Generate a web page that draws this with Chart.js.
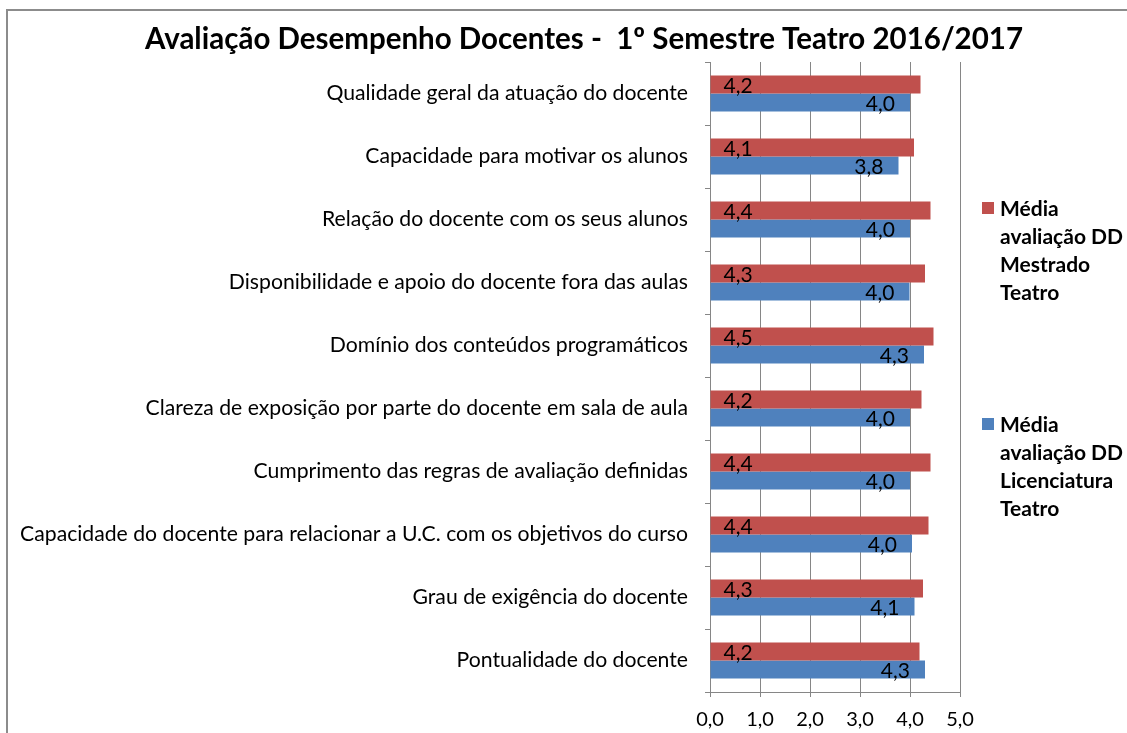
<!DOCTYPE html>
<html>
<head>
<meta charset="utf-8">
<script src="https://cdn.jsdelivr.net/npm/chart.js@4.4.0/dist/chart.umd.min.js"></script>
<style>
  html, body { margin: 0; padding: 0; background: #fff; }
</style>
</head>
<body>
<canvas id="grafico" width="1127" height="733"></canvas>
<script>
var categorias = [
  "Qualidade geral da atuação do docente",
  "Capacidade para motivar os alunos",
  "Relação do docente com os seus alunos",
  "Disponibilidade e apoio do docente fora das aulas",
  "Domínio dos conteúdos programáticos",
  "Clareza de exposição por parte do docente em sala de aula",
  "Cumprimento das regras de avaliação definidas",
  "Capacidade do docente para relacionar a U.C. com os objetivos do curso",
  "Grau de exigência do docente",
  "Pontualidade do docente"
];
var mestrado = [4.21, 4.08, 4.41, 4.30, 4.47, 4.23, 4.41, 4.37, 4.26, 4.19];
var licenciatura = [4.00, 3.77, 4.00, 3.99, 4.28, 4.00, 4.00, 4.04, 4.09, 4.30];
var ticksX = ["0,0", "1,0", "2,0", "3,0", "4,0", "5,0"];
var titulo = "Avaliação Desempenho Docentes -  1º Semestre Teatro 2016/2017";
var legendaMestrado = ["Média", "avaliação DD", "Mestrado", "Teatro"];
var legendaLicenciatura = ["Média", "avaliação DD", "Licenciatura", "Teatro"];

var fonte = "Lato";
var vermelho = "#C0504D";
var azul = "#4F81BD";
var cinza = "#868686";

function fmt(v) {
  return v.toFixed(1).replace(".", ",");
}

// moldura, titulo, legenda e rotulos de dados
var extras = {
  id: "extras",
  beforeDraw: function(chart) {
    var c = chart.ctx;
    c.save();
    c.strokeStyle = "#8c8c8c";
    c.lineWidth = 2;
    c.strokeRect(7, 10, 1300, 900);
    c.restore();
  },
  afterDatasetsDraw: function(chart) {
    var c = chart.ctx;
    c.save();
    c.font = "21px " + fonte;
    c.fillStyle = "#000";
    c.textBaseline = "middle";
    chart.getDatasetMeta(0).data.forEach(function(bar, i) {
      c.textAlign = "left";
      c.fillText(fmt(mestrado[i]), bar.base + 13, bar.y + 2);
    });
    chart.getDatasetMeta(1).data.forEach(function(bar, i) {
      c.textAlign = "right";
      c.fillText(fmt(licenciatura[i]), bar.x - 15, bar.y + 2);
    });
    c.restore();
  },
  afterDraw: function(chart) {
    var c = chart.ctx;
    c.save();
    c.fillStyle = "#000";
    c.textBaseline = "middle";
    c.textAlign = "center";
    c.font = "bold 29.5px " + fonte;
    c.fillText(titulo, 584, 39);

    c.textAlign = "left";
    c.font = "bold 21px " + fonte;
    var grupos = [
      { cor: vermelho, linhas: legendaMestrado, y: 209 },
      { cor: azul, linhas: legendaLicenciatura, y: 425 }
    ];
    grupos.forEach(function(g) {
      c.fillStyle = g.cor;
      c.fillRect(982, g.y - 7, 12, 12);
      c.fillStyle = "#000";
      g.linhas.forEach(function(t, k) {
        c.fillText(t, 1000, g.y + k * 28);
      });
    });
    c.restore();
  }
};

new Chart(document.getElementById("grafico"), {
  type: "bar",
  data: {
    labels: categorias,
    datasets: [
      {
        label: "Média avaliação DD Mestrado Teatro",
        data: mestrado,
        backgroundColor: vermelho,
        categoryPercentage: 0.57,
        barPercentage: 1.0
      },
      {
        label: "Média avaliação DD Licenciatura Teatro",
        data: licenciatura,
        backgroundColor: azul,
        categoryPercentage: 0.57,
        barPercentage: 1.0
      }
    ]
  },
  options: {
    indexAxis: "y",
    responsive: false,
    animation: false,
    layout: { padding: { top: 62, right: 167, left: 0, bottom: 0 } },
    plugins: {
      legend: { display: false },
      title: { display: false },
      tooltip: { enabled: false }
    },
    scales: {
      x: {
        min: 0,
        max: 5,
        ticks: {
          stepSize: 1,
          callback: function(v, i) { return ticksX[i]; },
          font: { family: fonte, size: 20 },
          color: "#000",
          padding: 11
        },
        grid: { color: cinza, tickLength: 5 },
        border: { color: cinza },
        afterFit: function(s) { s.height = 41; }
      },
      y: {
        ticks: {
          font: { family: fonte, size: 21.2 },
          color: "#000",
          padding: 17
        },
        grid: { drawOnChartArea: false, color: cinza, tickLength: 5 },
        border: { color: cinza },
        afterFit: function(s) { s.width = 710; }
      }
    }
  },
  plugins: [extras]
});
</script>
</body>
</html>
